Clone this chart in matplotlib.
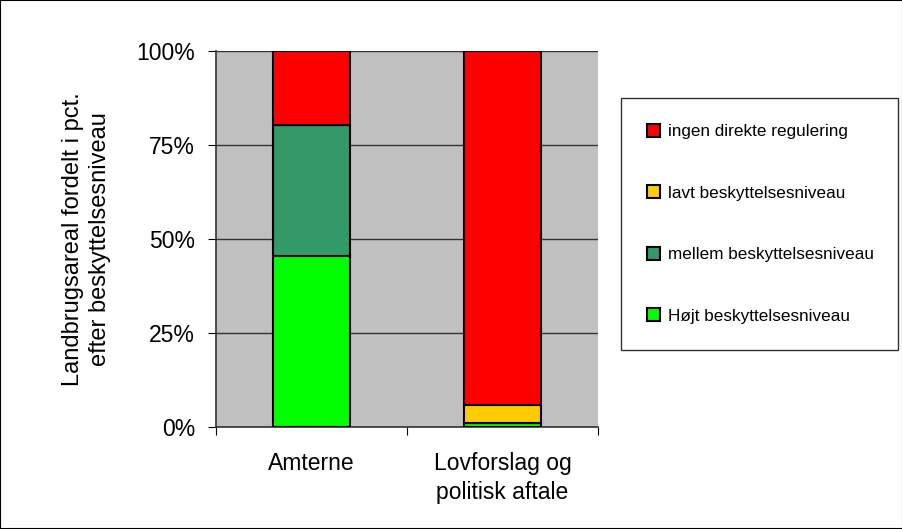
import matplotlib.pyplot as plt
import numpy as np

plt.rcParams['font.family'] = ['Liberation Sans', 'DejaVu Sans']

categories = ["Amterne", "Lovforslag og\npolitisk aftale"]
series_names = ["Højt beskyttelsesniveau", "mellem beskyttelsesniveau",
                "lavt beskyttelsesniveau", "ingen direkte regulering"]
hoejt = [45.5, 1.0]
mellem = [34.8, 0.0]
lavt = [0.0, 4.9]
ingen = [19.7, 94.1]
colors = ["#00FF00", "#339966", "#FFCC00", "#FF0000"]

fig = plt.figure(figsize=(9.03, 5.29), dpi=100)
ax = fig.add_axes([216 / 903, 1 - 427 / 529, 382 / 903, 376 / 529])
ax.set_facecolor("#C0C0C0")

x = np.arange(len(categories))
bottom = np.zeros(len(categories))
handles = []
for name, vals, col in zip(series_names, [hoejt, mellem, lavt, ingen], colors):
    vals = np.array(vals)
    b = ax.bar(x, vals, 0.4, bottom=bottom, color=col, edgecolor="black",
               linewidth=1.5, label=name, zorder=3)
    handles.append(b)
    bottom += vals

ax.set_xlim(-0.5, 1.5)
ax.set_ylim(0, 100)
ax.set_yticks([0, 25, 50, 75, 100])
ax.set_yticklabels(["0%", "25%", "50%", "75%", "100%"], fontsize=16.5)
ax.yaxis.grid(True, color="#333333", linewidth=1, zorder=0)
ax.set_axisbelow(True)
ax.set_xticks([-0.5, 0.5, 1.5])
ax.set_xticklabels([])
ax.set_xticks(x, minor=True)
ax.set_xticklabels(categories, minor=True, fontsize=16.5, linespacing=1.35)
ax.tick_params(axis="x", which="minor", length=0, pad=18)
ax.tick_params(axis="x", which="major", length=6, direction="out")
ax.tick_params(axis="y", length=6, direction="out", pad=9)
for s in ["top", "right"]:
    ax.spines[s].set_visible(False)
for s in ["left", "bottom"]:
    ax.spines[s].set_color("#333333")
    ax.spines[s].set_linewidth(1.2)

ax.set_ylabel("Landbrugsareal fordelt i pct.\nefter beskyttelsesniveau", fontsize=17,
              labelpad=18, linespacing=1.3)

leg = fig.legend(handles[::-1], series_names[::-1], loc="upper left",
                 bbox_to_anchor=(621 / 903, 1 - 349 / 529, 277 / 903, 251 / 529),
                 mode="expand", fontsize=12.3,
                 frameon=True, fancybox=False, edgecolor="black",
                 handlelength=0.8, handleheight=0.8, handletextpad=0.45,
                 labelspacing=2.7, borderpad=1.5, borderaxespad=0)
leg.get_frame().set_linewidth(1)

fig.patches.append(plt.Rectangle((0, 0), 1, 1, transform=fig.transFigure,
                                 fill=False, edgecolor="black", linewidth=1.5))

fig.savefig("out.png", dpi=100)
